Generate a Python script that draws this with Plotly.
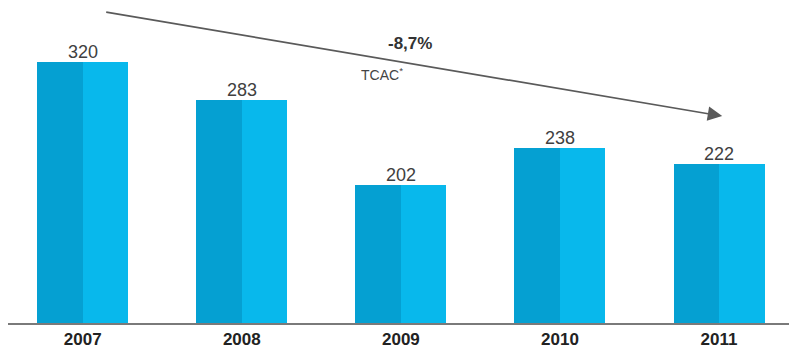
import plotly.graph_objects as go

# Annual figures
years = ["2007", "2008", "2009", "2010", "2011"]
values = [320, 283, 202, 238, 222]
cagr_label = "-8,7%"
cagr_note = "TCAC<sup>*</sup>"

dark_blue = "#05a0d2"
light_blue = "#08b8ec"
half = 0.286

x_idx = list(range(len(years)))

fig = go.Figure()

# Two-tone bars: darker left half, lighter right half
fig.add_trace(go.Bar(x=x_idx, y=values, width=half, offset=-half,
                     marker=dict(color=dark_blue, line=dict(width=0)),
                     hoverinfo="skip", showlegend=False))
fig.add_trace(go.Bar(x=x_idx, y=values, width=half, offset=0,
                     marker=dict(color=light_blue, line=dict(width=0)),
                     hoverinfo="skip", showlegend=False))

# Value labels above each bar
for i, v in zip(x_idx, values):
    fig.add_annotation(x=i, y=v, text=str(v), showarrow=False,
                       xref="x", yref="y", yanchor="bottom", yshift=-2,
                       font=dict(family="Liberation Sans, Arial", size=18, color="#404040"))

# Trend arrow across the series
fig.add_annotation(x=4.02, y=268, ax=0.138, ay=367.4,
                   xref="x", yref="y", axref="x", ayref="y",
                   text="", showarrow=True, arrowhead=2, arrowsize=1.7,
                   arrowwidth=1.7, arrowcolor="#5a5a5a")

fig.add_annotation(x=2.06, y=337, text=f"<b>{cagr_label}</b>", showarrow=False,
                   xref="x", yref="y",
                   font=dict(family="Liberation Sans, Arial", size=17, color="#333333"))
fig.add_annotation(x=1.88, y=308, text=cagr_note, showarrow=False,
                   xref="x", yref="y",
                   font=dict(family="Liberation Sans, Arial", size=14, color="#444444"))

fig.update_layout(
    width=789, height=349,
    margin=dict(l=8, r=0, t=0, b=26),
    paper_bgcolor="white", plot_bgcolor="white",
    bargap=0,
    xaxis=dict(range=[-0.47, 4.44], tickmode="array", tickvals=x_idx, ticktext=years,
               showgrid=False, zeroline=False, showline=True, linecolor="#7a7a7a",
               linewidth=2, ticks="", fixedrange=True,
               tickfont=dict(family="Liberation Sans Narrow, Arial Narrow, Liberation Sans",
                             size=17, color="#222222", weight="bold")),
    yaxis=dict(range=[70.6, 378.8], visible=False, showgrid=False, zeroline=False,
               fixedrange=True),
)

fig.write_html("out.html")
